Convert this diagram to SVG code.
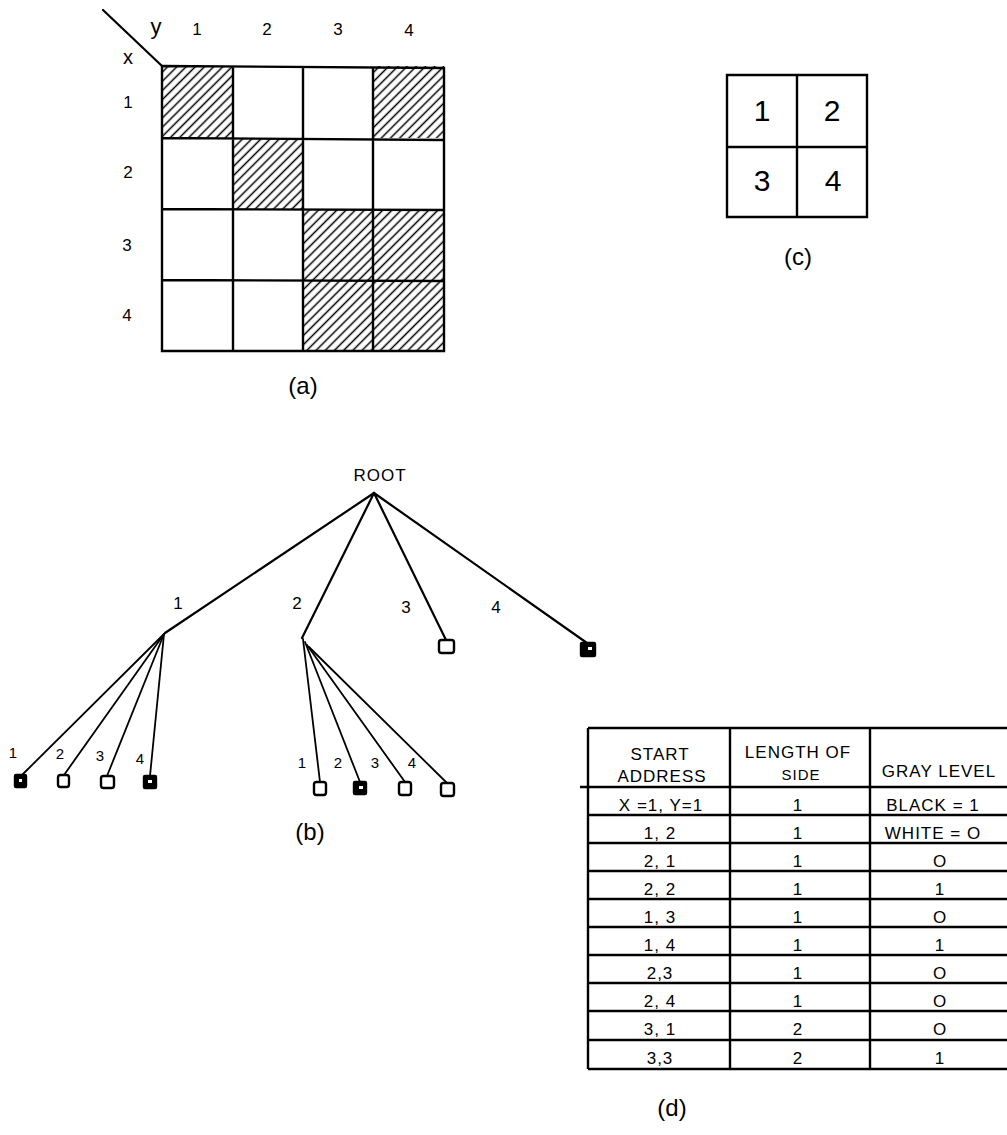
<svg xmlns="http://www.w3.org/2000/svg" width="1007" height="1135" viewBox="0 0 1007 1135">
<defs>
<pattern id="hatch" width="6.5" height="6.5" patternUnits="userSpaceOnUse" patternTransform="rotate(45)">
<line x1="3.25" y1="0" x2="3.25" y2="6.5" stroke="#000" stroke-width="1.5"/>
</pattern>
</defs>
<style>
text{font-family:"Liberation Sans","DejaVu Sans",sans-serif;fill:#000;text-anchor:middle}
.ln{stroke:#000;stroke-width:2.2;fill:none;stroke-linecap:round}
.tl{stroke:#000;stroke-width:1.8;fill:none;stroke-linecap:round}
.g{stroke:#000;stroke-width:2.4;fill:none}
.wb{fill:#fff;stroke:#000;stroke-width:2.4}
.bb{fill:#000;stroke:#000;stroke-width:2.4}
.lab{font-size:17px}
.cap{font-size:24px}
.tx{font-size:17px;letter-spacing:1px}
.big{font-size:30px}
</style>

<!-- (a) grid -->
<g id="grid-a">
<rect x="162" y="66" width="71" height="72" fill="url(#hatch)"/>
<rect x="373" y="66" width="71" height="72" fill="url(#hatch)"/>
<rect x="233" y="138" width="70" height="71" fill="url(#hatch)"/>
<rect x="303" y="209" width="141" height="142" fill="url(#hatch)"/>
<path class="g" d="M162 66 L444 68 L444 351 L162 351 Z M233 66 V351 M303 66 V351 M373 67 V351 M162 138 L444 140 M162 209 L444 210 M162 280 L444 281"/>
<line class="ln" x1="103" y1="10" x2="162" y2="66"/>
<text x="156" y="34" style="font-size:22px">y</text>
<text x="128" y="64" style="font-size:20px">x</text>
<text class="lab" x="197" y="35">1</text>
<text class="lab" x="267" y="35">2</text>
<text class="lab" x="338" y="35">3</text>
<text class="lab" x="409" y="36">4</text>
<text class="lab" x="128" y="108">1</text>
<text class="lab" x="128" y="178">2</text>
<text class="lab" x="127" y="251">3</text>
<text class="lab" x="127" y="321">4</text>
<text class="cap" x="303" y="394">(a)</text>
</g>

<!-- (c) quadrant -->
<g id="quad-c">
<path class="g" d="M727 75 H867 V217 H727 Z M797 75 V217 M727 147 H867"/>
<text class="big" x="762" y="121">1</text>
<text class="big" x="832" y="121">2</text>
<text class="big" x="762" y="191">3</text>
<text class="big" x="833" y="191">4</text>
<text class="cap" x="798" y="265">(c)</text>
</g>

<!-- (b) tree connectors -->
<g id="connectors">
<line class="ln" x1="374" y1="493" x2="165" y2="633"/>
<line class="ln" x1="374" y1="493" x2="302" y2="638"/>
<line class="ln" x1="374" y1="493" x2="446" y2="640"/>
<line class="ln" x1="374" y1="493" x2="587" y2="643"/>
<line class="tl" x1="164" y1="634" x2="22" y2="775"/>
<line class="tl" x1="164" y1="634" x2="64" y2="775"/>
<line class="tl" x1="164" y1="634" x2="107" y2="776"/>
<line class="tl" x1="164" y1="634" x2="150" y2="776"/>
<line class="tl" x1="303" y1="639" x2="320" y2="782"/>
<line class="tl" x1="305" y1="642" x2="360" y2="782"/>
<line class="tl" x1="307" y1="645" x2="405" y2="782"/>
<line class="tl" x1="309" y1="647" x2="447" y2="783"/>
</g>

<g id="tree-b">
<text x="380" y="481" style="font-size:17px;letter-spacing:1px">ROOT</text>
<text class="lab" x="178" y="609">1</text>
<text class="lab" x="297" y="609">2</text>
<text class="lab" x="406" y="613">3</text>
<text class="lab" x="496" y="613">4</text>
<g id="node-3"><rect class="wb" x="439" y="640" width="15" height="13" rx="2.5"/></g>
<g id="node-4"><rect class="bb" x="581" y="643" width="14" height="13" rx="1"/><rect x="588" y="647" width="4" height="3" fill="#fff"/></g>
<text class="lab" x="13" y="758" style="font-size:15px">1</text>
<text class="lab" x="60" y="759" style="font-size:15px">2</text>
<text class="lab" x="100" y="761" style="font-size:15px">3</text>
<text class="lab" x="140" y="764" style="font-size:15px">4</text>
<g id="node-1-1"><rect class="bb" x="15" y="775" width="11" height="12" rx="1"/><rect x="19" y="779" width="3" height="3" fill="#fff"/></g>
<g id="node-1-2"><rect class="wb" x="58" y="775" width="11" height="12" rx="2.5"/></g>
<g id="node-1-3"><rect class="wb" x="101" y="776" width="13" height="12" rx="2.5"/></g>
<g id="node-1-4"><rect class="bb" x="144" y="776" width="12" height="12" rx="1"/><rect x="148" y="780" width="4" height="3" fill="#fff"/></g>
<text class="lab" x="302" y="768" style="font-size:15px">1</text>
<text class="lab" x="338" y="768" style="font-size:15px">2</text>
<text class="lab" x="375" y="768" style="font-size:15px">3</text>
<text class="lab" x="412" y="768" style="font-size:15px">4</text>
<g id="node-2-1"><rect class="wb" x="314" y="782" width="12" height="13" rx="2.5"/></g>
<g id="node-2-2"><rect class="bb" x="354" y="782" width="12" height="12" rx="1"/><rect x="359" y="786" width="4" height="3" fill="#fff"/></g>
<g id="node-2-3"><rect class="wb" x="399" y="782" width="12" height="13" rx="2.5"/></g>
<g id="node-2-4"><rect class="wb" x="441" y="783" width="13" height="13" rx="2.5"/></g>
<text class="cap" x="310" y="840">(b)</text>
</g>

<!-- (d) table -->
<g id="table-d">
<path class="g" d="M588 728 H1007 M588 728 V1069 M730 728 V1069 M870 728 V1069 M580 787 H1007 M588 815 H1007 M588 843 H1007 M588 871 H1007 M588 899 H1007 M588 927 H1007 M588 955 H1007 M588 983 H1007 M588 1011 H1007 M588 1040 H1007 M588 1069 H1007"/>
<text class="tx" x="660" y="760">START</text>
<text class="tx" x="662" y="782">ADDRESS</text>
<text class="tx" x="798" y="758">LENGTH OF</text>
<text class="tx" x="801" y="780" style="font-size:15px">SIDE</text>
<text class="tx" x="939" y="777">GRAY LEVEL</text>
<text class="tx" x="661" y="811">X =1, Y=1</text>
<text class="tx" x="660" y="839">1, 2</text>
<text class="tx" x="660" y="867">2, 1</text>
<text class="tx" x="660" y="895">2, 2</text>
<text class="tx" x="660" y="923">1, 3</text>
<text class="tx" x="660" y="951">1, 4</text>
<text class="tx" x="660" y="979">2,3</text>
<text class="tx" x="660" y="1007">2, 4</text>
<text class="tx" x="660" y="1035">3, 1</text>
<text class="tx" x="660" y="1064">3,3</text>
<text class="tx" x="798" y="811">1</text>
<text class="tx" x="798" y="839">1</text>
<text class="tx" x="798" y="867">1</text>
<text class="tx" x="798" y="895">1</text>
<text class="tx" x="798" y="923">1</text>
<text class="tx" x="798" y="951">1</text>
<text class="tx" x="798" y="979">1</text>
<text class="tx" x="798" y="1007">1</text>
<text class="tx" x="798" y="1035">2</text>
<text class="tx" x="798" y="1064">2</text>
<text class="tx" x="933" y="811">BLACK = 1</text>
<text class="tx" x="933" y="839">WHITE = O</text>
<text class="tx" x="940" y="867">O</text>
<text class="tx" x="940" y="895">1</text>
<text class="tx" x="940" y="923">O</text>
<text class="tx" x="940" y="951">1</text>
<text class="tx" x="940" y="979">O</text>
<text class="tx" x="940" y="1007">O</text>
<text class="tx" x="940" y="1035">O</text>
<text class="tx" x="940" y="1064">1</text>
<text class="cap" x="672" y="1116">(d)</text>
</g>
</svg>
